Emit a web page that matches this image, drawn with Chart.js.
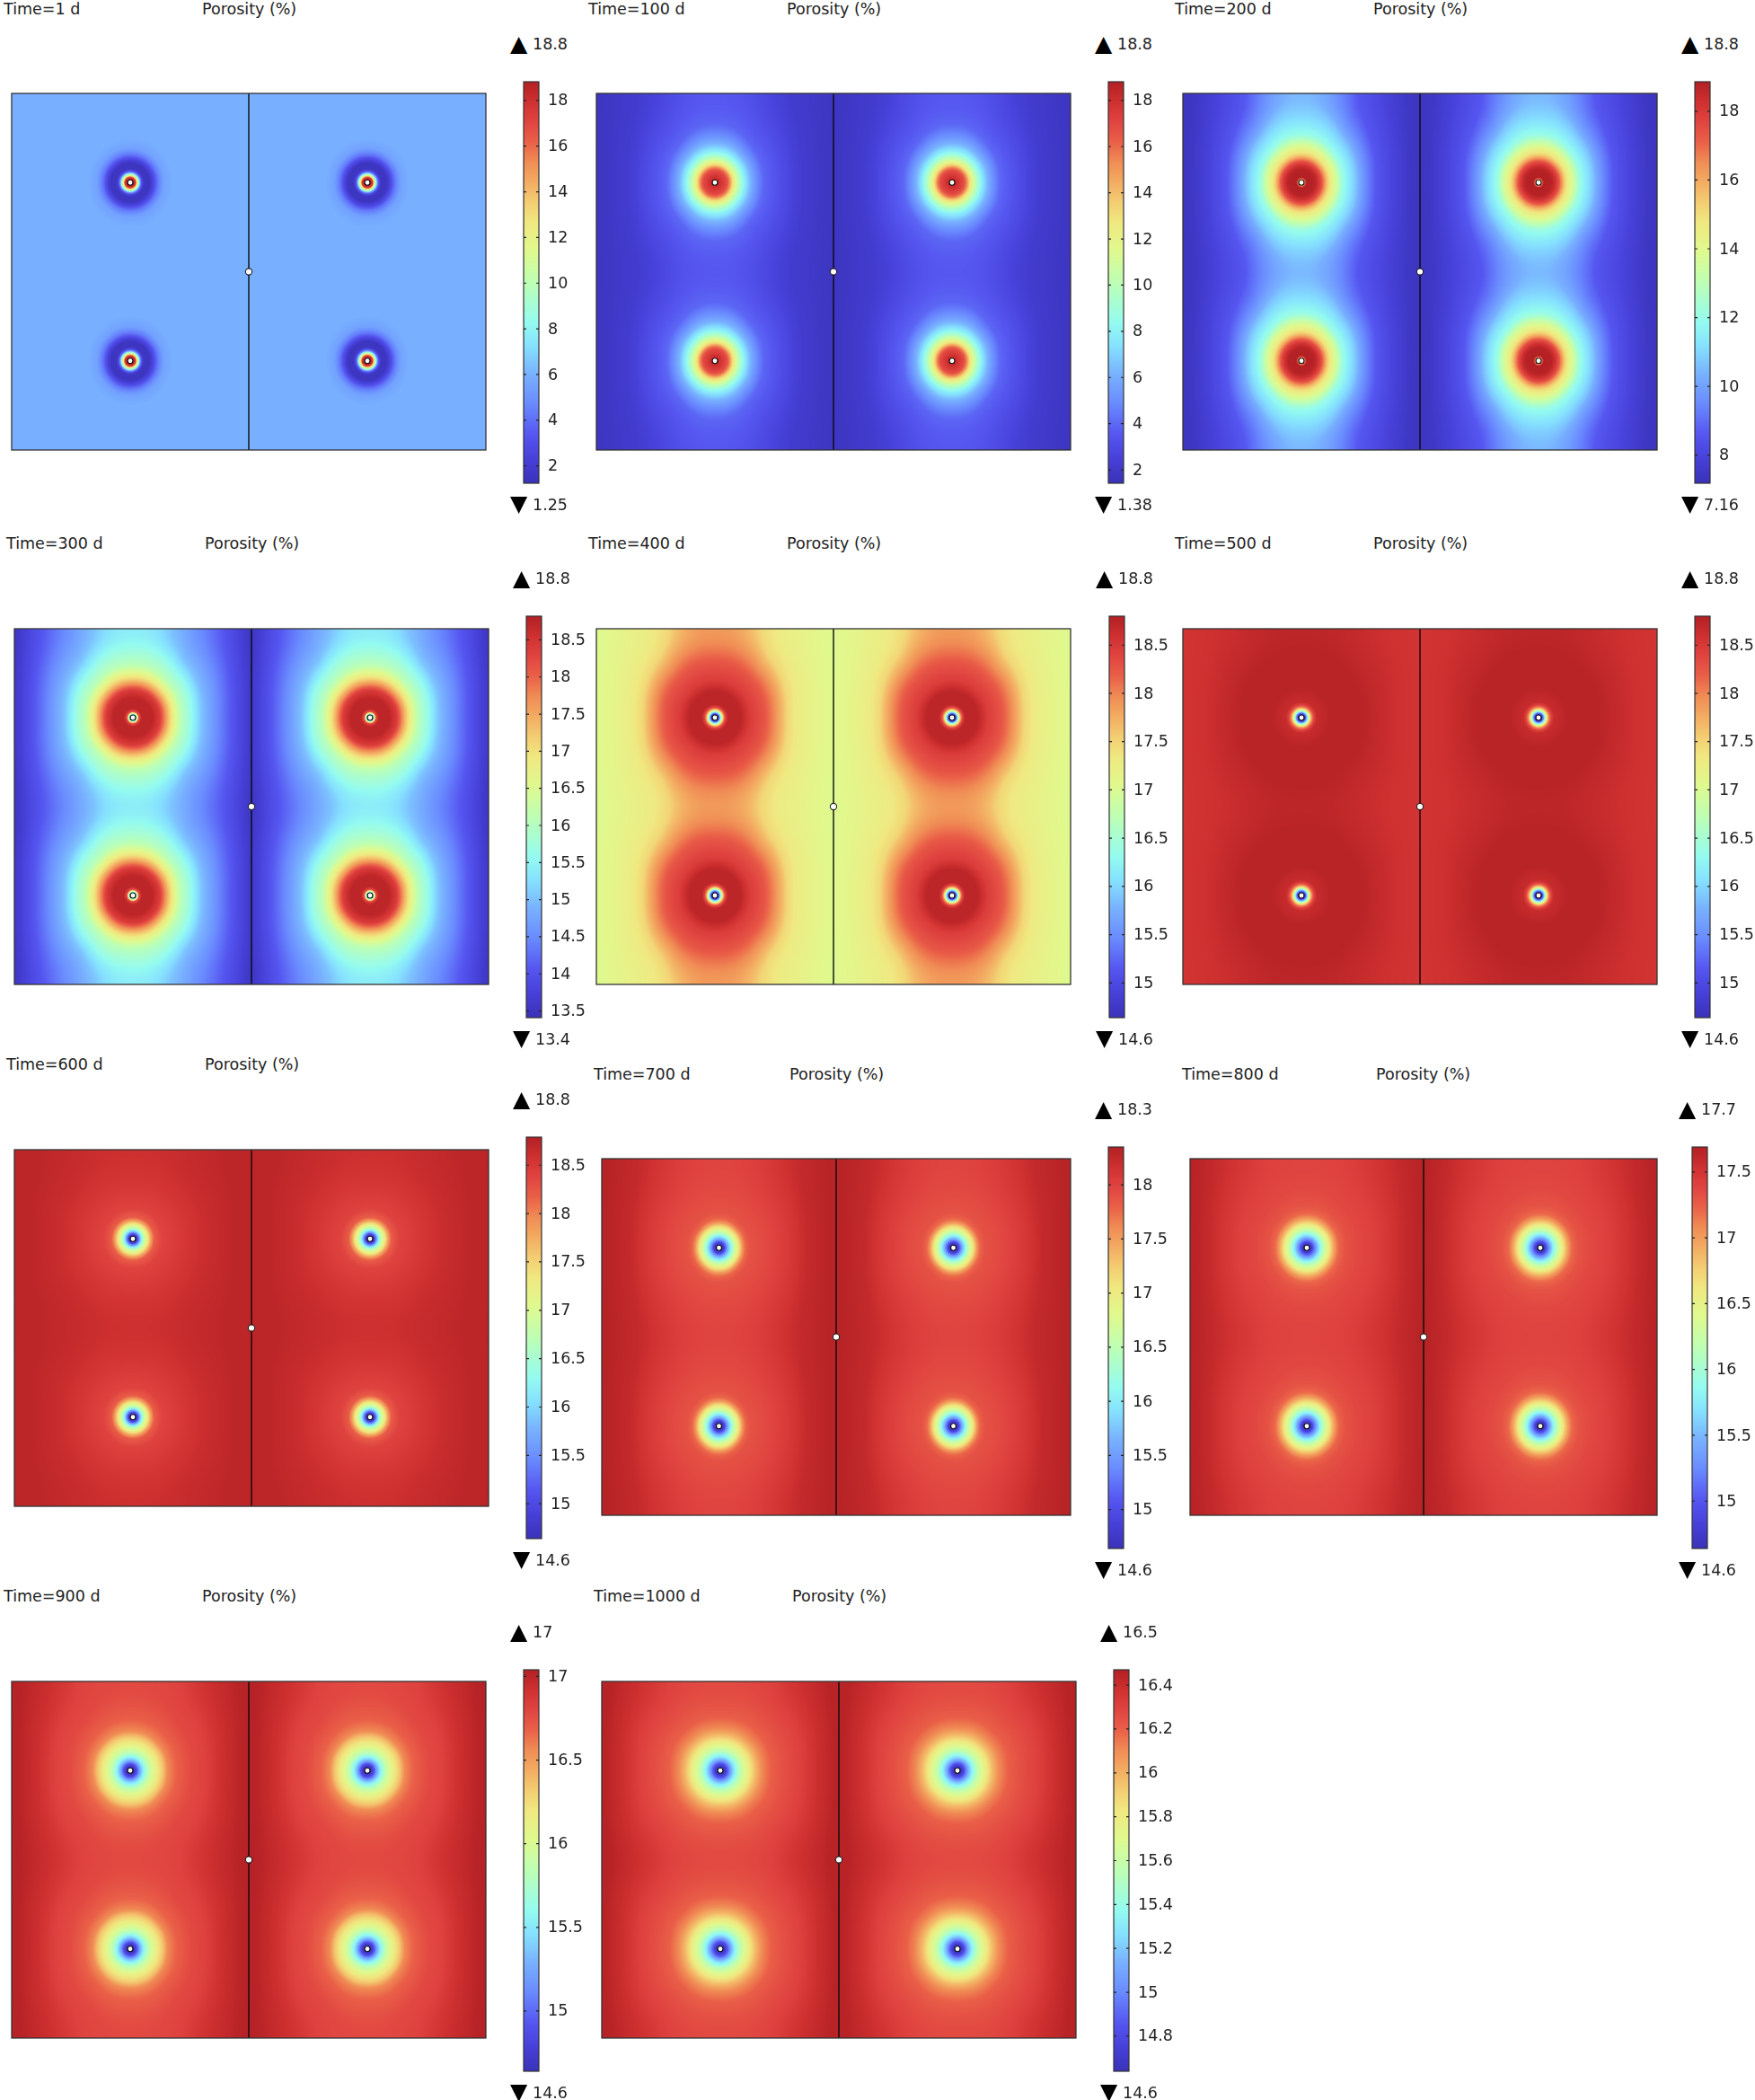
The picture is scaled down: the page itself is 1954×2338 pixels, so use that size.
<!DOCTYPE html>
<html>
<head>
<meta charset="utf-8">
<title>Porosity over time</title>
<script src="https://cdn.jsdelivr.net/npm/chart.js@4"></script>
<style>
html,body{margin:0;padding:0;background:#fff;}
#page{position:relative;width:1954px;height:2338px;overflow:hidden;background:#fff;}
canvas{position:absolute;display:block;}
.t{position:absolute;font-family:"DejaVu Sans",sans-serif;font-size:17.5px;line-height:22px;color:#222;white-space:pre;}
.g{position:absolute;font-family:"DejaVu Sans",sans-serif;font-size:25px;line-height:22px;color:#000;}
</style>
</head>
<body>
<div id="page"></div>
<script>
// ---------- chart text ----------
const timeLabels = ['Time=1 d','Time=100 d','Time=200 d','Time=300 d','Time=400 d','Time=500 d','Time=600 d','Time=700 d','Time=800 d','Time=900 d','Time=1000 d'];
const quantityLabel = 'Porosity (%)';

// ---------- printed extremes, colour-bar ends and ticks ----------
const rangeMax = [18.8,18.8,18.8,18.8,18.8,18.8,18.8,18.3,17.7,17,16.5];
const rangeMin = [1.25,1.38,7.16,13.4,14.6,14.6,14.6,14.6,14.6,14.6,14.6];
const barTop = [18.82,18.81,18.86,18.82,18.8,18.8,18.79,18.35,17.69,17.04,16.47];
const barBottom = [1.24,1.42,7.18,13.41,14.64,14.64,14.64,14.64,14.64,14.64,14.64];
const ticks_1d    = [2,4,6,8,10,12,14,16,18];
const ticks_100d  = [2,4,6,8,10,12,14,16,18];
const ticks_200d  = [8,10,12,14,16,18];
const ticks_300d  = [13.5,14,14.5,15,15.5,16,16.5,17,17.5,18,18.5];
const ticks_400d  = [15,15.5,16,16.5,17,17.5,18,18.5];
const ticks_500d  = [15,15.5,16,16.5,17,17.5,18,18.5];
const ticks_600d  = [15,15.5,16,16.5,17,17.5,18,18.5];
const ticks_700d  = [15,15.5,16,16.5,17,17.5,18];
const ticks_800d  = [15,15.5,16,16.5,17,17.5];
const ticks_900d  = [15,15.5,16,16.5,17];
const ticks_1000d = [14.8,15,15.2,15.4,15.6,15.8,16,16.2,16.4];

// ---------- geometry of the model (m) ----------
const wellX = [100,300,100,300];
const wellY = [225,225,75,75];
const faultX = [200,200];
const faultY = [0,300];
const midX = [200];
const midY = [150];

// ---------- porosity read along the horizontal line through a well (distance from the well, value) ----------
const rx_1d   = [2.5,4.5,5.5,7,8.5,9.7,11.5,16,19,23,28,36,150];
const poro_1d = [18.8,17.5,13,9.5,5,3,1.6,1.5,2.5,4.2,5.5,6,6];

const rx_100d   = [2.5,6,10,12.3,14.6,17.5,20.5,24.5,30,35,41,52,64,74,95,150];
const poro_100d = [18.3,17.6,16.8,15.5,13.3,11.5,9.8,8,6.2,5,3.9,3.3,2.6,2.1,1.73,1.45];

const rx_200d   = [2.5,3.3,4.5,11,14,17,21.5,24,29,35,41.5,46,48,54,63,76,93,130];
const poro_200d = [15,17.5,18.8,18.7,18.2,17.4,15.5,14.7,13.6,12,11.2,10.65,10.3,9.5,8.56,8,7.4,7.16];

const rx_300d   = [3,3.8,5,7.5,16.5,22.7,26.5,30,34,40,48,52,58,71,83,100,130];
const poro_300d = [15.45,16.64,18.15,18.7,18.7,18.37,17.8,17.3,16.75,16.1,15.67,15.4,15,14.5,14.05,13.56,13.4];

const rx_400d   = [3,4,5,6.3,7.5,8.8,11,22,30,42,48,52,58,61,71,86,105,130];
const poro_400d = [14.77,15.65,16.36,17.33,17.96,18.38,18.72,18.72,18.46,18.25,18.04,17.88,17.62,17.46,17.25,17.12,17,16.95];

const rx_500d   = [2.8,3.3,4,5,6,7,8.6,10.6,13,25,50,80,125];
const poro_500d = [14.7,15,15.4,16.1,16.7,17.3,17.95,18.4,18.65,18.75,18.75,18.6,18.5];

const rx_600d   = [2.8,4,5.5,7,9,12.6,15,18,25,40,60,85,125];
const poro_600d = [14.7,14.95,15.6,16.1,16.7,17.33,17.8,18.2,18.4,18.5,18.63,18.72,18.74];

const rx_700d   = [2.8,4.3,5.5,7,9.6,12,16,18,20,22.5,27,38,46,63,76,96,130];
const poro_700d = [14.64,14.82,15.1,15.5,15.93,16.38,16.9,17.19,17.49,17.71,17.84,17.89,17.93,18.06,18.19,18.26,18.3];

const rx_800d   = [2.8,4.3,5.7,8,10.8,14,18.8,21,24,27,33,43,55,70,85,100,130];
const poro_800d = [14.63,14.77,15.02,15.36,15.73,16.12,16.54,16.77,17.02,17.2,17.31,17.37,17.41,17.5,17.61,17.67,17.7];

const rx_900d   = [2.8,4.3,6,8,11,15,23,28,31.5,39,48,52,62,76,96,130];
const poro_900d = [14.62,14.72,14.91,15.2,15.49,15.8,16.14,16.33,16.52,16.64,16.71,16.74,16.77,16.88,16.98,17];

const rx_1000d   = [2.8,4.5,6.3,8.8,12,16.5,24,29,35,43,53,58,66,81,97,130];
const poro_1000d = [14.62,14.7,14.85,15.08,15.3,15.55,15.8,15.97,16.12,16.22,16.27,16.29,16.32,16.41,16.48,16.5];

// Distance along the horizontal line whose colour is the colour at the top edge above a well
const topEdgeMatch = [54,48,47,52,52,55,55,46,50,52,58];

// ---------- colour map stops (position along the bar, colour) ----------
const cmapPos = [0,.06,.12,.2,.27,.34,.4,.5,.58,.65,.7,.75,.8,.85,.9,.95,1];
const cmapHex = ['#3a32b8','#4640d8','#5555f0','#6a8cff','#78b0ff','#85e0ff','#94fbf0','#bdffb4','#e0f98e','#f0e880','#f3cd72','#f3ac62','#f08c55','#ea6048','#e04440','#cf3030','#b22024'];

// ---------- layout in shrunk-picture units ----------
const SC = 1954/1310;
const layoutBoxes = [
 // plot x0,x1,y0,y1, bar x0, bar y0, time x,y, quantity x
 [9,363,70,336,391,61,3,6,151],
 [445,799,70,336,827,61,439,6,587],
 [883,1237,70,336,1265,61,877,6,1025],
 [11,365,469,735,393,460,5,405,153],
 [445,799,469,735,828,460,439,405,587],
 [883,1237,469,735,1265,460,877,405,1025],
 [11,365,858,1124,393,849,5,794,153],
 [449,799,865,1131,827,856,443,801,589],
 [888,1237,865,1131,1263,856,882,801,1027],
 [9,363,1255,1521,391,1246,3,1191,151],
 [449,803,1255,1521,831,1246,443,1191,591]
];

const allRx = [rx_1d,rx_100d,rx_200d,rx_300d,rx_400d,rx_500d,rx_600d,rx_700d,rx_800d,rx_900d,rx_1000d];
const allPoro = [poro_1d,poro_100d,poro_200d,poro_300d,poro_400d,poro_500d,poro_600d,poro_700d,poro_800d,poro_900d,poro_1000d];
const allTicks = [ticks_1d,ticks_100d,ticks_200d,ticks_300d,ticks_400d,ticks_500d,ticks_600d,ticks_700d,ticks_800d,ticks_900d,ticks_1000d];

const cmapRgb = cmapHex.map(h=>[1,3,5].map(i=>parseInt(h.substr(i,2),16)));
function rgbAt(t){
  t=Math.max(0,Math.min(1,t));
  let k=0; while(k<cmapPos.length-2 && t>cmapPos[k+1]) k++;
  const f=(t-cmapPos[k])/(cmapPos[k+1]-cmapPos[k]);
  return cmapRgb[k].map((a,j)=>a+(cmapRgb[k+1][j]-a)*f);
}

// The tile around one well, coloured from the profile arrays.
function buildTile(chart,p){
  const sx=Math.abs(chart.scales.x.getPixelForValue(1)-chart.scales.x.getPixelForValue(0));
  const sy=Math.abs(chart.scales.y.getPixelForValue(1)-chart.scales.y.getPixelForValue(0));
  if(!(sx>0)||!(sy>0)) return null;
  const W=2*Math.ceil(100*sx)+4, H=2*Math.ceil(75*sy)+4;
  const c=document.createElement('canvas'); c.width=W; c.height=H;
  const g=c.getContext('2d');
  const img=g.createImageData(W,H);
  const v=allPoro[p], r=allRx[p], lo=rangeMin[p], hi=rangeMax[p], n=v.length;
  const expo=1/(1-topEdgeMatch[p]/75);
  for(let j=0;j<H;j++){
    const dy=Math.min(75,Math.abs(j+.5-H/2)/sy);
    const Y=dy*(1-Math.pow(dy/75,expo-1)/expo);
    for(let i=0;i<W;i++){
      const X=Math.min(100,Math.abs(i+.5-W/2)/sx);
      const m=Math.max(X,Y), q=2+1.5*Math.min(1,(m/90)*(m/90));
      const d=m===0?0:Math.pow(Math.pow(X,q)+Math.pow(Y,q),1/q);
      let val=v[n-1];
      if(d<=r[0]) val=v[0];
      else for(let k=1;k<n;k++){
        if(d<=r[k]){ val=v[k-1]+(v[k]-v[k-1])*(d-r[k-1])/(r[k]-r[k-1]); break; }
      }
      const col=rgbAt((val-lo)/(hi-lo));
      const o=(j*W+i)*4;
      img.data[o]=col[0];img.data[o+1]=col[1];img.data[o+2]=col[2];img.data[o+3]=255;
    }
  }
  g.putImageData(img,0,0);
  return c;
}

const framePlugin={id:'frame',afterDatasetsDraw(chart,args,opts){
  const a=chart.chartArea,c=chart.ctx;
  c.save();c.strokeStyle=opts.color;c.lineWidth=opts.width;
  c.strokeRect(a.left,a.top,a.right-a.left,a.bottom-a.top);
  if(opts.marks){
    const y=chart.scales.y;
    c.lineWidth=1.2;c.strokeStyle='#222';
    y.ticks.forEach(t=>{const py=y.getPixelForValue(t.value);
      c.beginPath();c.moveTo(a.left,py);c.lineTo(a.left+3,py);c.moveTo(a.right-3,py);c.lineTo(a.right,py);c.stroke();});
  }
  c.restore();
}};

const page=document.getElementById('page');
function addCanvas(l,t,w,h){const c=document.createElement('canvas');c.width=w;c.height=h;c.style.left=l+'px';c.style.top=t+'px';c.style.width=w+'px';c.style.height=h+'px';page.appendChild(c);return c;}
function addText(cls,txt,x,yc){const d=document.createElement('div');d.className=cls;d.textContent=txt;d.style.left=x+'px';d.style.top=(yc-11)+'px';page.appendChild(d);}

layoutBoxes.forEach((b,p)=>{
  const x0=Math.round(b[0]*SC),x1=Math.round(b[1]*SC),y0=Math.round(b[2]*SC),y1=Math.round(b[3]*SC);
  const pad=3;
  const cv=addCanvas(x0-pad,y0-pad,x1-x0+2*pad,y1-y0+2*pad);
  let tile=null;
  new Chart(cv,{
    type:'scatter',
    data:{datasets:[
      {label:'Wells',order:0,data:wellX.map((x,i)=>({x,y:wellY[i]})),pointRadius:3,pointBackgroundColor:'#fff',pointBorderColor:'#111',pointBorderWidth:1.2,clip:false},
      {label:'Midpoint',order:1,data:midX.map((x,i)=>({x,y:midY[i]})),pointRadius:3.6,pointBackgroundColor:'#fff',pointBorderColor:'#222',pointBorderWidth:1.1,clip:false},
      {label:'Fault',order:2,data:faultX.map((x,i)=>({x,y:faultY[i]})),showLine:true,pointRadius:0,borderColor:'#0a0a0a',borderWidth:1.4},
      {label:'Porosity field',order:3,data:wellX.map((x,i)=>({x,y:wellY[i]})),pointRadius:1,borderWidth:0,clip:0,
        pointStyle:(ctx)=>{ if(!tile) tile=buildTile(ctx.chart,p); return tile||'circle'; }}
    ]},
    options:{
      responsive:false,animation:false,devicePixelRatio:1,
      layout:{padding:pad,autoPadding:false},
      events:[],
      plugins:{legend:{display:false},tooltip:{enabled:false},frame:{color:'#333',width:1.3}},
      scales:{
        x:{type:'linear',min:0,max:400,display:false},
        y:{type:'linear',min:0,max:300,display:false}
      }
    },
    plugins:[framePlugin]
  });

  // colour bar
  const bx=Math.round(b[4]*SC),by=Math.round(b[5]*SC),bw=17,bh=Math.round(300*SC);
  const lbl=70, top=16;
  const cb=addCanvas(bx-3,by-top,bw+3+lbl,bh+2*top);
  const lo=barBottom[p],hi=barTop[p],tk=allTicks[p];
  new Chart(cb,{
    type:'bar',
    data:{labels:[quantityLabel],datasets:[{data:[[lo,hi]],barPercentage:1,categoryPercentage:1,borderWidth:0,
      backgroundColor:(ctx)=>{
        const a=ctx.chart.chartArea; if(!a) return '#000';
        const g=ctx.chart.ctx.createLinearGradient(0,a.bottom,0,a.top);
        cmapPos.forEach((t,i)=>g.addColorStop(t,cmapHex[i]));
        return g;
      }}]},
    options:{
      responsive:false,animation:false,devicePixelRatio:1,events:[],
      layout:{padding:{left:3,top:top,bottom:top,right:0},autoPadding:false},
      plugins:{legend:{display:false},tooltip:{enabled:false},frame:{color:'#333',width:1.2,marks:true}},
      scales:{
        x:{display:false},
        y:{type:'linear',position:'right',min:lo,max:hi,
          afterBuildTicks:(s)=>{s.ticks=tk.map(v=>({value:v}));},
          afterFit:(s)=>{s.width=lbl;s.paddingTop=0;s.paddingBottom=0;},
          border:{display:false},
          grid:{display:false,drawTicks:false},
          ticks:{autoSkip:false,padding:10,labelOffset:1,color:'#222',maxRotation:0,font:{family:'"DejaVu Sans"',size:17.5},callback:(v)=>String(v)}
        }
      }
    },
    plugins:[framePlugin]
  });

  addText('t',timeLabels[p],Math.round(b[6]*SC),Math.round(b[7]*SC)+1);
  addText('t',quantityLabel,Math.round(b[8]*SC),Math.round(b[7]*SC)+1);
  addText('g','\u25B2',bx-15,by-42);
  addText('t',String(rangeMax[p]),bx+10,by-42);
  addText('g','\u25BC',bx-15,by+bh+23);
  addText('t',String(rangeMin[p]),bx+10,by+bh+24);
});
</script>
</body>
</html>
